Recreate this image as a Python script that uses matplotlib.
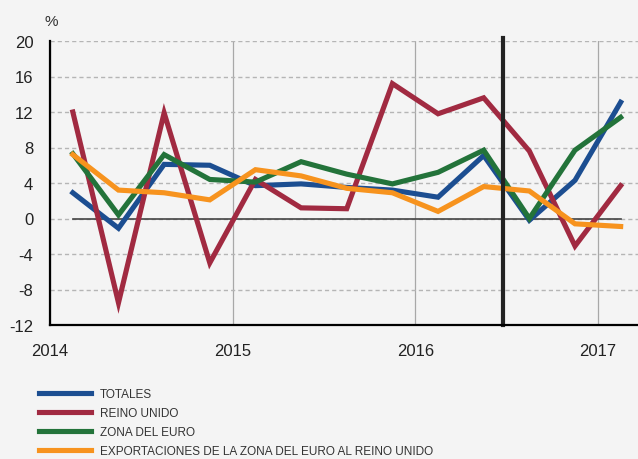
import matplotlib.pyplot as plt
from matplotlib import font_manager

# Quarterly points (mid-quarter, decimal years) Q1 2014 - Q1 2017
quarters = [2014.125, 2014.375, 2014.625, 2014.875,
            2015.125, 2015.375, 2015.625, 2015.875,
            2016.125, 2016.375, 2016.625, 2016.875,
            2017.125]

totales = [2.9, -1.1, 6.1, 6.0, 3.7, 3.9, 3.5, 3.2, 2.4, 7.1, -0.2, 4.3, 13.1]
reino_unido = [12.0, -9.5, 11.9, -5.0, 4.4, 1.2, 1.1, 15.2, 11.8, 13.6, 7.6, -3.1, 3.7]
zona_euro = [7.3, 0.4, 7.2, 4.4, 4.1, 6.4, 5.0, 3.9, 5.2, 7.7, 0.0, 7.7, 11.4]
export_ue_ru = [7.2, 3.2, 2.9, 2.1, 5.5, 4.8, 3.4, 2.9, 0.8, 3.6, 3.1, -0.6, -0.9]

series_labels = ['TOTALES', 'REINO UNIDO', 'ZONA DEL EURO',
                 'EXPORTACIONES DE LA ZONA DEL EURO AL REINO UNIDO']
colors = ['#1c4e91', '#a12a41', '#23733a', '#f7931e']

year_ticks = [2014, 2015, 2016, 2017]
y_ticks = [-12, -8, -4, 0, 4, 8, 12, 16, 20]
referendum = 2016.48

bg = '#f4f4f4'
plt.rcParams['font.family'] = ['Liberation Sans', 'DejaVu Sans']
plt.rcParams['axes.unicode_minus'] = False

fig = plt.figure(figsize=(6.38, 4.6), dpi=100, facecolor=bg)
ax = fig.add_axes([50 / 638, 1 - 326 / 460, 1 - 50 / 638, 284 / 460])
ax.set_facecolor(bg)

ax.set_xlim(2014, 2017.22)
ax.set_ylim(-12, 20)
ax.set_xticks(year_ticks)
ax.set_yticks(y_ticks)
ax.tick_params(axis='both', length=0, labelsize=12, labelcolor='#222222')
ax.tick_params(axis='y', pad=12)
ax.tick_params(axis='x', pad=13)

for s in ['top', 'right']:
    ax.spines[s].set_visible(False)
for s in ['left', 'bottom']:
    ax.spines[s].set_color('black')
    ax.spines[s].set_linewidth(1.6)
    ax.spines[s].set_zorder(6)

ax.grid(axis='y', color='#b5b5b5', linestyle=(0, (3, 2.2)), linewidth=1.0)
ax.grid(axis='x', color='#a8a8a8', linestyle='-', linewidth=0.9)
ax.set_axisbelow(True)

# zero line between first and last quarter
ax.plot([quarters[0], quarters[-1]], [0, 0], color='#444444', lw=1.2, zorder=2)

data = [totales, reino_unido, zona_euro, export_ue_ru]
handles = []
for vals, lab, c in zip(data, series_labels, colors):
    h, = ax.plot(quarters, vals, color=c, lw=3.7, label=lab, zorder=3,
                 solid_joinstyle='miter')
    handles.append(h)

# referendum marker
ax.axvline(referendum, ymin=0, ymax=1.01, color='#222222', lw=3.0,
           zorder=5, clip_on=False)

fig.text(51 / 638, 1 - 22 / 460, '%', ha='center', va='center',
         fontsize=11, color='#333333')

leg_font = font_manager.FontProperties(family='Liberation Sans', size=8.5)
fig.legend(handles, series_labels, loc='upper left',
           bbox_to_anchor=(39 / 638, 1 - 389 / 460), frameon=False,
           prop=leg_font, handlelength=4.4, handletextpad=0.76,
           labelspacing=0.6, borderpad=0, borderaxespad=0,
           labelcolor='#333333')

fig.savefig('out.png', dpi=100, facecolor=bg)
